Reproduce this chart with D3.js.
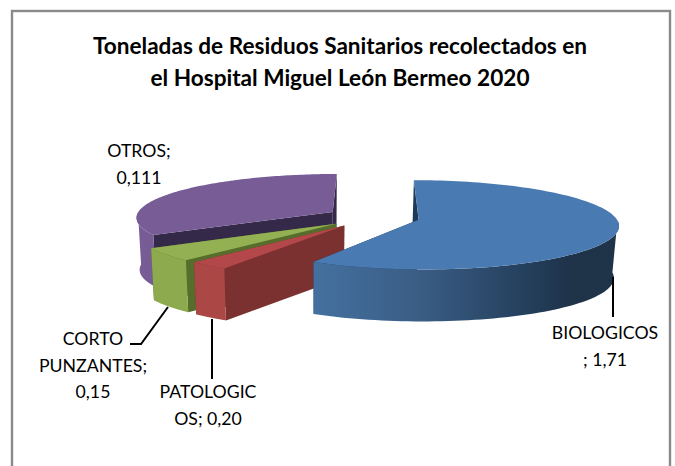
<!DOCTYPE html>
<html><head><meta charset="utf-8">
<script src="https://cdn.jsdelivr.net/npm/d3@7"></script>
<style>html,body{margin:0;padding:0;background:#fff}svg{display:block}</style></head>
<body><svg id="c" width="675" height="466"></svg>
<script>
const titleLines = ["Toneladas de Residuos Sanitarios recolectados en","el Hospital Miguel León Bermeo 2020"];
const categories = ["BIOLOGICOS","PATOLOGICOS","CORTO PUNZANTES","OTROS"];
const valueLabels = ["1,71","0,20","0,15","0,111"];
// Sweep of each slice as drawn in the picture, in degrees (clockwise from 12 o'clock)
const drawnSweep = [210, 12, 17, 121];
const drawnTrim = [0, 1.5, 0, 0];
const topColors = ["#4a7ab2","#b4474a","#93b152","#775c96"];
const cutColors = ["#1f3a58","#7a312f","#566d2c","#35294a"];
const labelLines = [["BIOLOGICOS","; 1,71"],["PATOLOGIC","OS; 0,20"],["CORTO","PUNZANTES;","0,15"],["OTROS;","0,111"]];
const labelX = [605,208,93,139];
const labelY = [339,398,345,157];
const labelGap = 26.5;

const svg = d3.select("#c");
const defs = svg.append("defs");
const Cx=373, Cy=217, Rx=197, Ry=43.4, P=0.114, E=0.238, H=52, Vx=320, Kb=0.983;
const pie = d3.pie().sort(null).value(d=>d)(drawnSweep);
const project = (u,v,bottom)=>{
  const s = 1/(1+P*v);
  let x = Cx + Rx*u*s, y = Cy - Ry*v*s;
  if(bottom){ x = Vx+(x-Vx)*Kb; y += H; }
  return [x,y];
};
const line = d3.line();
const slices = pie.map((p,i)=>{
  const a0=p.startAngle+drawnTrim[i]*Math.PI/180,a1=p.endAngle,n=120;
  const mid=(a0+a1)/2, ex=E*Math.sin(mid), ey=E*Math.cos(mid);
  const rim=d3.range(n+1).map(k=>{const a=a0+(a1-a0)*k/n;return [ex+Math.sin(a),ey+Math.cos(a),a];});
  return {i,ex,ey,a0,a1,rim};
});
// frame
svg.append("rect").attr("x",12).attr("y",11).attr("width",658).attr("height",470)
  .attr("fill","#fff").attr("stroke","#8a8a8a").attr("stroke-width",2.4);

const blueG=defs.append("linearGradient").attr("id","bg").attr("gradientUnits","userSpaceOnUse")
  .attr("x1",314).attr("x2",618).attr("y1",0).attr("y2",0);
blueG.selectAll("stop").data([[0,"#44709f"],[0.35,"#3a5d85"],[0.7,"#243f5c"],[0.85,"#1e3248"],[1,"#1f3449"]])
  .join("stop").attr("offset",d=>d[0]).attr("stop-color",d=>d[1]);
const purG=defs.append("linearGradient").attr("id","pg").attr("gradientUnits","userSpaceOnUse")
  .attr("x1",137).attr("x2",200).attr("y1",0).attr("y2",0);
purG.selectAll("stop").data([[0,"#775c96"],[1,"#735a92"]]).join("stop").attr("offset",d=>d[0]).attr("stop-color",d=>d[1]);
const sideFill=["url(#bg)","#ab4745","#8dab4e","url(#pg)"];

const g=svg.append("g").attr("class","pie");
[3,2,1,0].forEach(i=>{
  const s=slices[i];
  const apexT=project(s.ex,s.ey,false), apexB=project(s.ex,s.ey,true);
  const first=s.rim[0], last=s.rim[s.rim.length-1];
  const cut=(r)=>[apexT,project(r[0],r[1],false),project(r[0],r[1],true),apexB];
  // cut faces
  g.append("path").attr("d",line(cut(first))+"Z").attr("fill",cutColors[i]);
  g.append("path").attr("d",line(cut(last))+"Z").attr("fill",cutColors[i]);
  // outer wall: the part of the rim that faces the viewer
  const front=s.rim.filter(r=>Math.cos(r[2])<0);
  const pts=front.map(r=>project(r[0],r[1],false)).concat(front.slice().reverse().map(r=>project(r[0],r[1],true)));
  g.append("path").attr("d",line(pts)+"Z").attr("fill",sideFill[i]);
  // top face
  const top=[apexT].concat(s.rim.map(r=>project(r[0],r[1],false)));
  g.append("path").attr("d",line(top)+"Z").attr("fill",topColors[i]);
});
// leaders
const leaders=[[[613,277],[613,317]],[[212,319],[212,379]],[[168,307],[141,344],[130,344]]];
svg.selectAll("path.leader").data(leaders).join("path").attr("class","leader")
  .attr("d",d=>line(d)).attr("fill","none").attr("stroke","#000").attr("stroke-width",2);
// title
svg.append("text").attr("font-family","Lato").attr("font-weight",700).attr("font-size",22.6).attr("fill","#000")
  .attr("text-anchor","middle").selectAll("tspan").data(titleLines).join("tspan")
  .attr("x",340).attr("y",(d,i)=>54+i*32).text(d=>d);
// labels
labelLines.forEach((ls,i)=>{
  svg.append("text").attr("font-family","Lato").attr("font-size",17.7).attr("fill","#000")
   .attr("text-anchor","middle").selectAll("tspan").data(ls).join("tspan")
   .attr("x",labelX[i]).attr("y",(d,k)=>labelY[i]+k*labelGap).text(d=>d);
});
</script></body></html>
